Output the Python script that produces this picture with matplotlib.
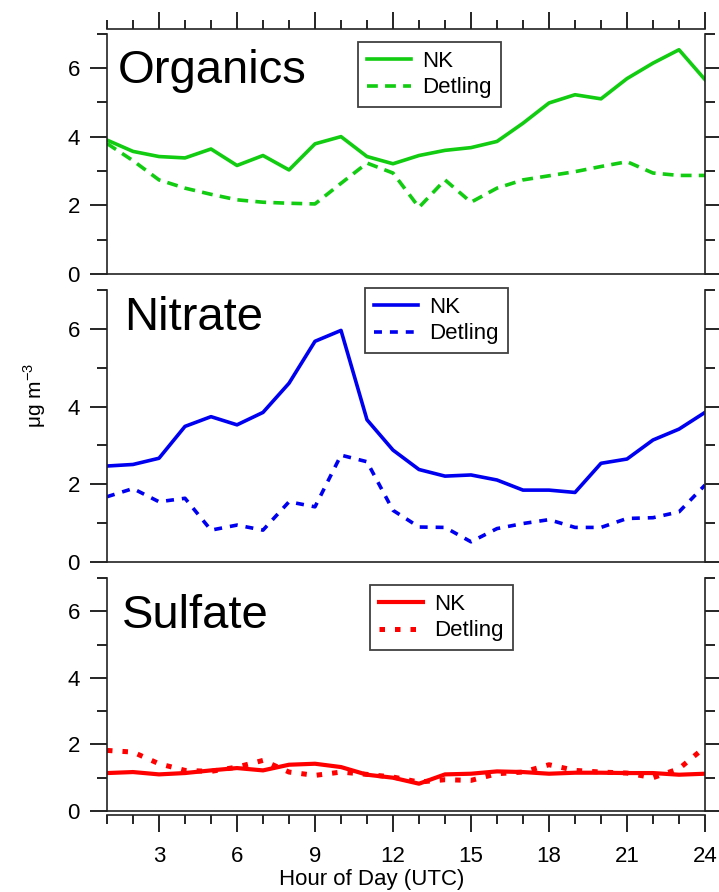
import matplotlib
matplotlib.use('Agg')
import matplotlib.pyplot as plt
from matplotlib.ticker import MultipleLocator, FixedLocator

plt.rcParams['font.family'] = ['Liberation Sans', 'DejaVu Sans']

# Hour of day and the diurnal profiles (ug m-3)
hours = list(range(1, 25))

org_nk = [3.90, 3.57, 3.42, 3.38, 3.64, 3.16, 3.45, 3.03, 3.79, 4.00, 3.42, 3.21,
          3.45, 3.60, 3.68, 3.86, 4.39, 4.98, 5.22, 5.10, 5.69, 6.14, 6.53, 5.66]
org_det = [3.80, 3.30, 2.74, 2.50, 2.32, 2.16, 2.09, 2.06, 2.04, 2.64, 3.23, 2.94,
           1.94, 2.74, 2.09, 2.50, 2.74, 2.86, 2.98, 3.13, 3.27, 2.94, 2.87, 2.87]

nit_nk = [2.47, 2.51, 2.67, 3.49, 3.74, 3.53, 3.85, 4.60, 5.68, 5.96, 3.66, 2.88,
          2.38, 2.21, 2.24, 2.11, 1.85, 1.85, 1.79, 2.54, 2.65, 3.14, 3.42, 3.85]
nit_det = [1.68, 1.89, 1.55, 1.64, 0.82, 0.95, 0.82, 1.55, 1.42, 2.75, 2.58, 1.33,
           0.90, 0.89, 0.52, 0.86, 0.99, 1.09, 0.89, 0.89, 1.12, 1.14, 1.29, 1.98]

sul_nk = [1.14, 1.17, 1.10, 1.14, 1.22, 1.29, 1.22, 1.39, 1.42, 1.32, 1.09, 1.00,
          0.82, 1.10, 1.12, 1.19, 1.17, 1.12, 1.15, 1.15, 1.14, 1.14, 1.09, 1.12]
sul_det = [1.82, 1.77, 1.42, 1.22, 1.19, 1.32, 1.52, 1.17, 1.07, 1.17, 1.10, 1.02,
           0.87, 0.94, 0.92, 1.12, 1.17, 1.39, 1.22, 1.17, 1.14, 1.00, 1.27, 1.92]

species = ['Organics', 'Nitrate', 'Sulfate']
colors = ['#11cc11', '#0000f0', '#ff0000']
det_dashes = [(3, 2), (2.2, 2.2), (1.1, 2.0)]

fig = plt.figure(figsize=(7.19, 8.92), dpi=100)
W, H = 719, 892
x0, x1 = 107, 705

# panel extents in pixels (top, bottom)
panels = [(33.6, 274), (290, 562), (578, 811)]
legend_pos = [(358, 42), (365, 288), (370, 585)]
title_pos = [(118, 83), (124, 330), (122, 628)]
data = [(org_nk, org_det), (nit_nk, nit_det), (sul_nk, sul_det)]

spine_lw = 1.2
for i, (top, bot) in enumerate(panels):
    ax = fig.add_axes([x0 / W, 1 - bot / H, (x1 - x0) / W, (bot - top) / H])
    nk, det = data[i]
    lw = 2.6 if i < 2 else 3.0
    ax.plot(hours, nk, color=colors[i], lw=lw, label='NK', solid_joinstyle='round')
    ax.plot(hours, det, color=colors[i], lw=lw if i < 2 else 3.6,
            dashes=det_dashes[i], label='Detling')

    ax.set_xlim(1, 24)
    ax.set_ylim(0, 7)
    ax.yaxis.set_major_locator(FixedLocator([0, 2, 4, 6]))
    ax.yaxis.set_minor_locator(FixedLocator([1, 3, 5, 7]))
    ax.xaxis.set_major_locator(MultipleLocator(3))
    ax.xaxis.set_minor_locator(MultipleLocator(1))
    ax.tick_params(axis='y', which='both', left=True, right=True, direction='out',
                   labelright=False, width=spine_lw, labelsize=16, pad=7)
    ax.tick_params(axis='y', which='major', length=12.5)
    ax.tick_params(axis='y', which='minor', length=7)

    for s in ax.spines.values():
        s.set_linewidth(spine_lw)
        s.set_color('#222222')
    ax.spines['top'].set_visible(False)

    if i == 0:
        ax.spines['top'].set_visible(True)
        ax.spines['top'].set_position(('outward', 3))
        ax.tick_params(axis='x', which='both', top=True, bottom=False, labeltop=False,
                       labelbottom=False, direction='out', width=spine_lw)
        ax.tick_params(axis='x', which='major', length=12.5)
        ax.tick_params(axis='x', which='minor', length=6.5)
    elif i == 1:
        ax.tick_params(axis='x', which='both', bottom=False, labelbottom=False)
    else:
        ax.spines['bottom'].set_position(('outward', 3))
        ax.axhline(0, color='#222222', lw=spine_lw, clip_on=False)
        ax.tick_params(axis='x', which='both', direction='out', width=spine_lw,
                       labelsize=16, pad=10)
        ax.tick_params(axis='x', which='major', length=12.5)
        ax.tick_params(axis='x', which='minor', length=6.5)

    tx, ty = title_pos[i]
    ax.text((tx - x0) / (x1 - x0), (bot - ty) / (bot - top), species[i],
            transform=ax.transAxes, fontsize=34, ha='left', va='baseline')

    lx, ly = legend_pos[i]
    leg = ax.legend(loc='upper left', bbox_to_anchor=((lx - x0) / (x1 - x0), (bot - ly) / (bot - top)),
                    borderaxespad=0, fontsize=16, frameon=True, fancybox=False,
                    handlelength=2.0, handletextpad=0.5, labelspacing=0.25,
                    borderpad=0.4)
    leg.get_frame().set_edgecolor('#111111')
    leg.get_frame().set_linewidth(1.3)

fig.text(35 / W, 1 - 395 / H, 'μg m$^{\\mathregular{-3}}$', rotation=90,
         ha='center', va='center', fontsize=15)
fig.text(372 / W, 1 - 880 / H, 'Hour of Day (UTC)', ha='center', va='center', fontsize=16)

fig.savefig('out.png', dpi=100)
